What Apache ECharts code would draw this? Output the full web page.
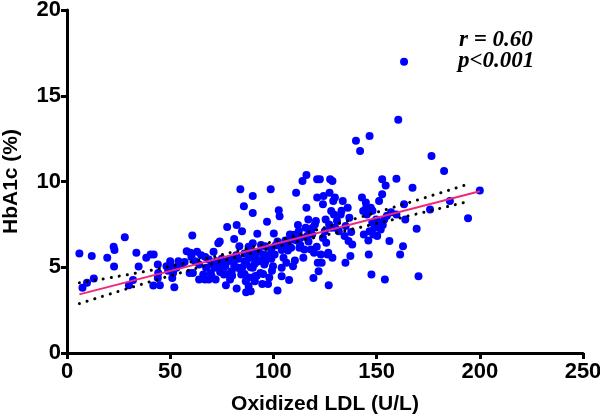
<!DOCTYPE html>
<html>
<head>
<meta charset="utf-8">
<script src="https://cdn.jsdelivr.net/npm/echarts@6/dist/echarts.min.js"></script>
<style>html,body{margin:0;padding:0;background:#fff}#c{width:600px;height:416px}</style>
</head>
<body>
<div id="c"></div>
<script>
// Oxidized LDL (U/L) vs HbA1c (%)
const oxLDL = [6,7.5,9.7,12,13,19.5,22.6,22.8,23,28,30,32,33.6,34.7,38.4,40.5,42,41.8,44,44,45,44.2,48.2,49,50,50.5,51,52,51.4,53,54,55.3,58,59.8,60.7,60.3,59.4,61,62,64,64,65,66,66.8,67.4,68.7,68.7,69.6,70,71.5,72.4,72,73.3,74,74.2,75,76,76.7,77.6,78,77,79,79.8,81,82,82.2,82.2,83,84,83.5,84.4,84.8,85.7,86,86.6,86.8,88,89,90,90,87.8,89,90,91,91,91.5,92.2,92.8,93.7,94.6,95.2,95.6,96,96.9,97.4,98.7,98.9,99.3,99.8,100.2,100.6,101,102,102.6,103,103.4,104,104,104.9,105.8,106.3,107,107.6,108,108.6,109.5,110.4,111,111.3,111.9,112.3,112.6,113.2,114.1,114.5,115,115.6,116,116,116.3,116.9,117.5,118.2,118.8,119.4,119.7,120.1,120.6,121.2,121.2,121.5,121.9,122.5,123,123.4,124,124.3,124.9,125.3,125.6,126.2,126.6,126.8,127.2,127.5,128,128,128.6,128.6,129,129.3,129.8,130.8,131.7,132.6,133.6,134.5,134.9,136,136.4,136.8,137.3,137.7,138.2,140,142,142.9,143.5,143.8,144.8,145.3,146,146.2,146.6,146.6,147.2,147.5,147.9,148.4,149,149.8,150.3,151.2,152.2,152.7,152.7,153,153.7,154,154.4,156.2,159.6,159.6,160.5,161.4,162.8,163.3,163.3,163.9,167.4,169.4,170.3,175.9,176.6,182.7,185.5,194.3,200,
57,63,67,70,71,73,75,77,79,80,81,82,85,86,87,88,88,89,90,91,92,93,94,95,96,97,98,99,94,90,86,84,83,102,104,106,109,110,113,117,119,121,124,127,130,133,135,145,148,150,152,155,157];
const hba1c = [5.8,3.8,4.1,5.65,4.35,5.55,6.2,5.05,6.0,6.75,3.95,4.25,5.85,5.05,5.55,5.74,5.74,3.93,5.16,4.38,3.95,4.67,5.06,4.8,5.35,5.08,4.38,3.84,4.67,4.97,5.35,5.16,5.94,5.84,6.85,5.6,4.67,4.67,5.35,5.16,4.28,5.7,4.57,4.28,4.97,5.45,4.28,4.67,5.16,4.97,5.35,4.28,6.4,6.5,4.73,5.16,4.57,5.06,7.35,5.35,3.95,4.28,4.77,6.64,5.7,7.46,3.76,4.97,9.55,6.23,4.57,7.1,8.55,5.35,4.18,3.54,3.9,3.6,9.16,8.16,5.74,5.55,4.97,4.48,4.18,5.55,6.95,5.35,4.67,4.03,5.74,5.16,6.23,7.65,4.03,9.55,6.04,4.8,5.06,6.97,5.74,6.27,3.64,8.33,7.98,6.27,4.48,4.97,5.55,6.56,5.26,5.98,4.25,6.91,6.14,5.06,5.4,9.35,6.56,7.46,7.1,6.14,6.72,10.03,5.55,6.04,7.3,10.38,8.47,6.82,7.79,7.1,6.04,6.91,4.38,5.84,7.5,7.69,9.06,10.13,5.26,4.77,10.13,5.74,5.26,8.67,9.16,7.1,7.79,6.43,5.74,5.84,3.95,9.35,10.13,8.28,7.3,10.03,5.55,8.86,8.08,9.06,7.69,7.1,8.08,8.86,6.82,5.26,8.47,6.53,7.89,5.65,7.05,6.33,12.37,11.78,9.06,8.28,6.91,8.77,8.08,6.56,5.74,12.66,7.1,8.47,4.58,7.6,6.91,7.3,7.79,6.82,8.86,7.6,9.26,10.13,7.46,7.79,4.28,9.77,6.53,10.16,8.08,13.6,5.74,6.23,16.98,8.67,7.79,9.64,7.24,4.48,8.37,11.49,10.61,8.86,7.85,9.48,
5.3,5.9,5.6,4.5,5.9,5.0,5.5,4.6,5.5,4.5,5.1,5.5,5.0,4.6,5.2,4.4,6.2,5.0,5.9,5.2,4.5,5.9,5.4,4.6,5.3,5.7,4.4,5.5,6.3,6.4,5.8,4.9,5.5,6.5,6.0,6.3,6.6,6.9,6.3,6.5,7.3,6.2,6.7,7.5,7.3,8.3,7.4,8.5,8.3,7.5,7.2,8.0,8.2];
// regression line and 95% band
const fitX = [6, 200];
const fitY = [3.42, 9.43];
const bandX = [6, 50, 100, 150, 195];
const bandUpper = [4.09, 5.05, 6.5, 8.2, 9.87];
const bandLower = [2.88, 4.5, 6.15, 7.55, 8.85];
const xTicks = [0, 50, 100, 150, 200, 250];
const yTicks = [0, 5, 10, 15, 20];
const stats = ['r = 0.60', 'p<0.001'];

const pts = oxLDL.map((x, i) => [x, hba1c[i]]);
const zip = (a, b) => a.map((v, i) => [v, b[i]]);
const axisFont = {fontFamily: 'Liberation Sans', fontWeight: 'bold', color: '#000'};
const chart = echarts.init(document.getElementById('c'), null, {renderer: 'canvas'});
chart.setOption({
  animation: false,
  backgroundColor: '#fff',
  grid: {left: 67, right: 17, top: 10, bottom: 63, outerBoundsMode: 'none', containLabel: false},
  xAxis: {
    type: 'value', min: xTicks[0], max: xTicks[xTicks.length - 1], interval: 50,
    name: 'Oxidized LDL (U/L)', nameLocation: 'middle', nameGap: 41,
    nameTextStyle: Object.assign({fontSize: 21}, axisFont),
    axisLine: {lineStyle: {color: '#000', width: 3}},
    axisTick: {show: true, length: 6, lineStyle: {color: '#000', width: 3}},
    axisLabel: Object.assign({fontSize: 22, margin: 8}, axisFont),
    splitLine: {show: false}
  },
  yAxis: {
    type: 'value', min: yTicks[0], max: yTicks[yTicks.length - 1], interval: 5,
    name: 'HbA1c (%)', nameLocation: 'middle', nameGap: 45,
    nameTextStyle: Object.assign({fontSize: 21}, axisFont),
    axisLine: {show: true, lineStyle: {color: '#000', width: 3}},
    axisTick: {show: true, length: 6, lineStyle: {color: '#000', width: 3}},
    axisLabel: Object.assign({fontSize: 22, margin: 6}, axisFont),
    splitLine: {show: false}
  },
  graphic: [
    {type: 'text', left: 459, top: 29, style: {text: stats[0], font: 'italic bold 23px "Liberation Serif"', fill: '#000'}},
    {type: 'text', left: 458, top: 50, style: {text: stats[1], font: 'italic bold 23px "Liberation Serif"', fill: '#000'}}
  ],
  series: [
    {type: 'scatter', data: pts, symbol: 'circle', symbolSize: 8, itemStyle: {color: '#0000ff', opacity: 1}, z: 3},
    {type: 'line', data: zip(bandX, bandUpper), smooth: 0.4, symbol: 'none', lineStyle: {color: '#000', width: 3, type: [0.1, 8], cap: 'round'}, z: 4},
    {type: 'line', data: zip(bandX, bandLower), smooth: 0.4, symbol: 'none', lineStyle: {color: '#000', width: 3, type: [0.1, 8], cap: 'round'}, z: 4},
    {type: 'line', data: zip(fitX, fitY), symbol: 'none', lineStyle: {color: '#f0287a', width: 2}, z: 5}
  ]
});
</script>
</body>
</html>
